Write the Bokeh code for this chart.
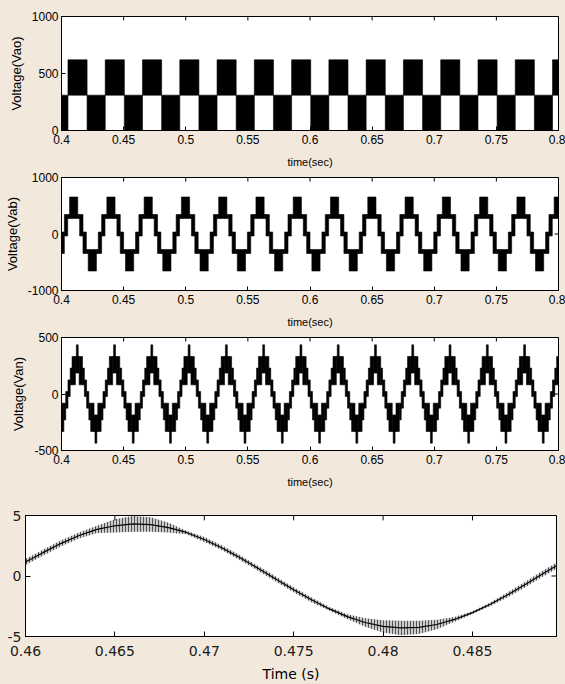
from bokeh.plotting import figure
from bokeh.models import ColumnDataSource, Range1d, FixedTicker
from bokeh.embed import file_html
from bokeh.resources import INLINE

# ---------------- data ----------------
time_ticks = [0.4, 0.45, 0.5, 0.55, 0.6, 0.65, 0.7, 0.75, 0.8]
time_tick_labels = ["0.4", "0.45", "0.5", "0.55", "0.6", "0.65", "0.7", "0.75", "0.8"]

vao_yticks = [0, 500, 1000]
vao_ytick_labels = ["0", "500", "1000"]
vab_yticks = [-1000, 0, 1000]
vab_ytick_labels = ["-1000", "0", "1000"]
van_yticks = [-500, 0, 500]
van_ytick_labels = ["-500", "0", "500"]

cycle_period = 0.0300
# start of each fundamental cycle (s)
vao_cycle_starts = [0.3752, 0.4052, 0.4352, 0.4652, 0.4952, 0.5252, 0.5552, 0.5852,
                    0.6152, 0.6452, 0.6752, 0.7052, 0.7352, 0.7652, 0.7952]
vab_cycle_starts = [0.3723, 0.4023, 0.4323, 0.4623, 0.4923, 0.5223, 0.5523, 0.5823,
                    0.6123, 0.6423, 0.6723, 0.7023, 0.7323, 0.7623, 0.7923]
van_cycle_starts = [0.3752, 0.4052, 0.4352, 0.4652, 0.4952, 0.5252, 0.5552, 0.5852,
                    0.6152, 0.6452, 0.6752, 0.7052, 0.7352, 0.7652, 0.7952]

# one cycle of each PWM waveform: phase start/end (fraction of cycle) and switching band (V)
vao_phase_start = [0.000, 0.513]
vao_phase_end = [0.513, 1.000]
vao_low = [310, 0]
vao_high = [620, 310]

vab_phase_start = [0.00, 0.09, 0.14, 0.36, 0.41, 0.50, 0.59, 0.64, 0.86, 0.91]
vab_phase_end = [0.09, 0.14, 0.36, 0.41, 0.50, 0.59, 0.64, 0.86, 0.91, 1.00]
vab_low = [0, 310, 310, 310, 0, -310, -310, -620, -310, -310]
vab_high = [310, 310, 620, 310, 310, 0, -310, -310, -310, 0]

van_phase_start = [0.000, 0.060, 0.110, 0.200, 0.225, 0.300, 0.390, 0.440,
                   0.500, 0.560, 0.610, 0.700, 0.725, 0.800, 0.890, 0.940]
van_phase_end = [0.060, 0.110, 0.200, 0.300, 0.275, 0.390, 0.440, 0.500,
                 0.560, 0.610, 0.700, 0.800, 0.775, 0.890, 0.940, 1.000]
van_low = [0, 103, 103, 207, 310, 103, 103, 0,
           -103, -207, -310, -310, -413, -310, -207, -103]
van_high = [103, 207, 310, 310, 413, 310, 207, 103,
            0, -103, -103, -207, -310, -103, -103, 0]

# zoomed current trace
zoom_ticks = [0.46, 0.465, 0.47, 0.475, 0.48, 0.485]
zoom_tick_labels = ["0.46", "0.465", "0.47", "0.475", "0.48", "0.485"]
zoom_yticks = [-5, 0, 5]
zoom_ytick_labels = ["-5", "0", "5"]
zoom_time = [0.460, 0.461, 0.462, 0.463, 0.464, 0.465, 0.466, 0.467, 0.468, 0.469,
             0.470, 0.471, 0.472, 0.473, 0.474, 0.475, 0.476, 0.477, 0.478, 0.479,
             0.480, 0.481, 0.482, 0.483, 0.484, 0.485, 0.486, 0.487, 0.488, 0.489, 0.4897]
zoom_value = [1.15, 1.95, 2.70, 3.35, 3.85, 4.15, 4.30, 4.25, 4.00, 3.60,
              3.02, 2.32, 1.51, 0.64, -0.25, -1.14, -1.97, -2.72, -3.36, -3.84,
              -4.16, -4.29, -4.24, -4.01, -3.59, -3.03, -2.33, -1.53, -0.66, 0.24, 0.85]
zoom_ripple = [0.25, 0.25, 0.25, 0.25, 0.30, 0.55, 0.65, 0.60, 0.40, 0.15,
               0.20, 0.20, 0.20, 0.20, 0.20, 0.20, 0.20, 0.15, 0.20, 0.35,
               0.50, 0.60, 0.55, 0.40, 0.20, 0.12, 0.15, 0.20, 0.22, 0.25, 0.25]

# ---------------- styling ----------------
BG = "#f2e8dc"
SMALL_FONT = "Liberation Sans"


def band_source(starts, p0, p1, lo, hi, pad):
    L, R, B, T = [], [], [], []
    for t0 in starts:
        for a, b, l, h in zip(p0, p1, lo, hi):
            L.append(t0 + a * cycle_period)
            R.append(t0 + b * cycle_period)
            B.append(l - pad)
            T.append(h + pad)
    return ColumnDataSource(dict(left=L, right=R, bottom=B, top=T))


def style_matlab(p, xticks, xlabels, yticks, ylabels, font, tick_size, tick_len,
                 frame_w, frame_h):
    p.xaxis.ticker = FixedTicker(ticks=xticks)
    p.xaxis.major_label_overrides = {t: s for t, s in zip(xticks, xlabels)}
    p.yaxis.ticker = FixedTicker(ticks=yticks)
    p.yaxis.major_label_overrides = {t: s for t, s in zip(yticks, ylabels)}
    for ax in (p.xaxis[0], p.yaxis[0]):
        ax.major_tick_in = tick_len
        ax.major_tick_out = 0
        ax.minor_tick_line_color = None
        ax.axis_line_color = "black"
        ax.major_tick_line_color = "black"
        ax.major_label_text_font = font
        ax.major_label_text_font_size = tick_size
        ax.major_label_text_color = "black"
        ax.axis_label_text_font = font
        ax.axis_label_text_font_style = "normal"
        ax.axis_label_text_color = "black"
    # inward ticks on the top and right edges of the box
    x0, x1 = p.x_range.start, p.x_range.end
    y0, y1 = p.y_range.start, p.y_range.end
    dy = (y1 - y0) * tick_len / frame_h
    dx = (x1 - x0) * tick_len / frame_w
    p.segment(x0=xticks, x1=xticks, y0=[y1] * len(xticks), y1=[y1 - dy] * len(xticks),
              line_color="black", line_width=1)
    p.segment(x0=[x1] * len(yticks), x1=[x1 - dx] * len(yticks), y0=yticks, y1=yticks,
              line_color="black", line_width=1)
    p.outline_line_color = "black"
    p.outline_line_width = 1
    p.background_fill_color = "white"
    p.border_fill_color = BG
    p.xgrid.visible = False
    p.ygrid.visible = False


def wave_panel(height, top, bottom, yr, yticks, ylabels, ylabel, starts, p0, p1, lo, hi, pad):
    p = figure(width=565, height=height, x_range=Range1d(0.4, 0.8), y_range=Range1d(*yr),
               output_backend="svg", toolbar_location=None,
               min_border_left=61, min_border_right=7,
               min_border_top=top, min_border_bottom=bottom)
    src = band_source(starts, p0, p1, lo, hi, pad)
    p.quad(left="left", right="right", bottom="bottom", top="top", source=src,
           fill_color="black", line_color="black", line_width=0.6)
    p.xaxis.axis_label = "time(sec)"
    p.yaxis.axis_label = ylabel
    style_matlab(p, time_ticks, time_tick_labels, yticks, ylabels, SMALL_FONT, "12px", 4,
                 497, height - top - bottom)
    p.xaxis.major_label_standoff = 4
    p.yaxis.major_label_standoff = 3
    p.xaxis.axis_label_text_font_size = "11px"
    p.xaxis.axis_label_standoff = 9
    p.yaxis.axis_label_text_font_size = "13px"
    p.yaxis.axis_label_standoff = 5
    return p


p1 = wave_panel(170, 16, 39, (0, 1000), vao_yticks, vao_ytick_labels, "Voltage(Vao)",
                vao_cycle_starts, vao_phase_start, vao_phase_end, vao_low, vao_high, 0)
p2 = wave_panel(160, 7, 40, (-1000, 1000), vab_yticks, vab_ytick_labels, "Voltage(Vab)",
                vab_cycle_starts, vab_phase_start, vab_phase_end, vab_low, vab_high, 35)
p3 = wave_panel(160, 7, 39, (-500, 500), van_yticks, van_ytick_labels, "Voltage(Van)",
                van_cycle_starts, van_phase_start, van_phase_end, van_low, van_high, 22)

p4 = figure(width=565, height=194, x_range=Range1d(0.46, 0.4897), y_range=Range1d(-5, 5),
            output_backend="svg", toolbar_location=None,
            min_border_left=25, min_border_right=9, min_border_top=25, min_border_bottom=45)
lower = [v - r for v, r in zip(zoom_value, zoom_ripple)]
upper = [v + r for v, r in zip(zoom_value, zoom_ripple)]
src4 = ColumnDataSource(dict(t=zoom_time, v=zoom_value, lo=lower, hi=upper))
p4.varea(x="t", y1="lo", y2="hi", source=src4, fill_color="black", fill_alpha=0.2,
         hatch_pattern="vertical_line", hatch_color="black", hatch_scale=3, hatch_weight=1,
         hatch_alpha=0.6)
p4.line(x="t", y="v", source=src4, line_color="black", line_width=1.2)
p4.xaxis.axis_label = "Time (s)"
style_matlab(p4, zoom_ticks, zoom_tick_labels, zoom_yticks, zoom_ytick_labels,
             "DejaVu Sans", "14px", 5, 531, 124)
p4.xaxis.major_label_standoff = 9
p4.yaxis.major_label_standoff = 4
p4.xaxis.axis_label_text_font_size = "14px"
p4.xaxis.axis_label_standoff = 7
p4.xaxis.major_label_text_color = "#1a1a1a"
p4.yaxis.major_label_text_color = "#1a1a1a"

# separate roots so that each panel keeps its own frame position
html = file_html([p1, p2, p3, p4], INLINE)
html = html.replace("<body>", '<body style="margin:0;background-color:%s">' % BG)
with open("out.html", "w") as f:
    f.write(html)
